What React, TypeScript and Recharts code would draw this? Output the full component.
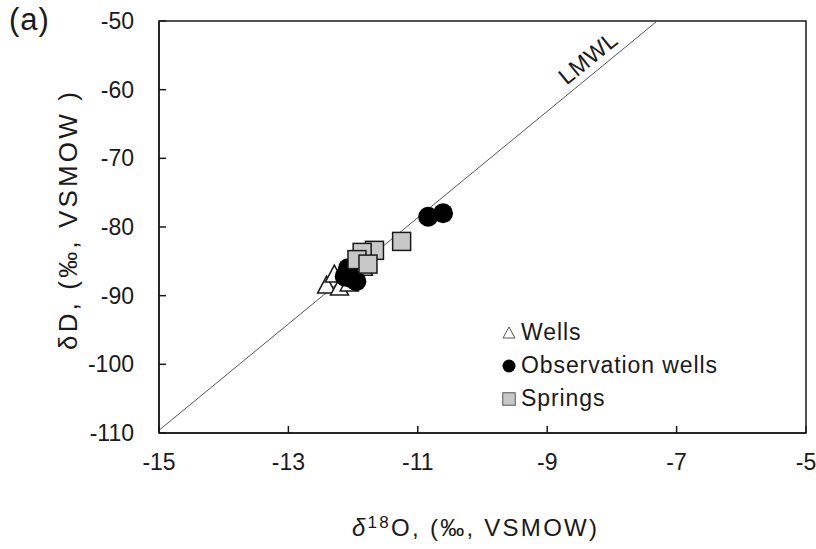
import React from "react";
import {
  ScatterChart,
  Scatter,
  XAxis,
  YAxis,
  ReferenceLine,
  ReferenceArea,
  ReferenceDot,
  Label
} from "recharts";

// values
const seriesNames = ["Wells", "Observation wells", "Springs"];

const wellsO18 = [-12.41, -12.21, -12.29, -11.84, -12.06];
const wellsD = [-88.6, -88.9, -87.0, -86.0, -88.3];

const obsO18 = [-10.84, -10.61, -12.08, -12.03, -11.95, -12.13];
const obsD = [-78.5, -78.0, -86.0, -87.45, -87.9, -87.2];

const springsO18 = [-11.25, -11.67, -11.86, -11.94, -11.77];
const springsD = [-82.1, -83.4, -83.7, -84.75, -85.4];

// local meteoric water line end points
const lmwlO18 = [-15, -7.3];
const lmwlD = [-109.6, -50];

const xTicks = [-15, -13, -11, -9, -7, -5];
const yTicks = [-110, -100, -90, -80, -70, -60, -50];

const FONT = "'Liberation Sans', Arial, sans-serif";
const INK = "#1a1a1a";

const toPoints = (xs: number[], ys: number[]) => xs.map((x, i) => ({ x, y: ys[i] }));

const TriangleShape = (props: any) => {
  const { cx, cy } = props;
  return (
    <path
      d={`M${cx},${cy - 10} L${cx + 9},${cy + 7} L${cx - 9},${cy + 7} Z`}
      fill="#fff"
      stroke={INK}
      strokeWidth={1.5}
    />
  );
};

const CircleShape = (props: any) => <circle cx={props.cx} cy={props.cy} r={10} fill="#000" />;

const SquareShape = (props: any) => (
  <rect x={props.cx - 9} y={props.cy - 9} width={18} height={18} fill="#c8c8c8" stroke={INK} strokeWidth={1.5} />
);

const X_MARGIN = 34;
const Y_MARGIN = 25;

const XTick = (props: any) => {
  const { x, y, payload } = props;
  const axisY = y - X_MARGIN;
  return (
    <g>
      <line x1={x} y1={axisY} x2={x} y2={axisY - 7} stroke={INK} strokeWidth={1.5} />
      <text x={x} y={y + 3} textAnchor="middle" fontSize={23} fontFamily={FONT} fill={INK}>
        {payload.value}
      </text>
    </g>
  );
};

const YTick = (props: any) => {
  const { x, y, payload } = props;
  const axisX = x + Y_MARGIN;
  return (
    <g>
      <line x1={axisX} y1={y} x2={axisX + 7} y2={y} stroke={INK} strokeWidth={1.5} />
      <text x={x} y={y + 8} textAnchor="end" fontSize={23} fontFamily={FONT} fill={INK}>
        {payload.value}
      </text>
    </g>
  );
};

const XTitle = () => (
  <text
    x={352}
    y={536}
    textLength={245}
    lengthAdjust="spacing"
    fontSize={24}
    fontFamily={FONT}
    fill={INK}
  >
    <tspan fontStyle="italic">δ</tspan>
    <tspan fontSize={17} dy={-8}>18</tspan>
    <tspan dy={8}>O, (‰, VSMOW)</tspan>
  </text>
);

const YTitle = () => (
  <text
    x={77}
    y={221}
    transform="rotate(-90, 77, 221)"
    textAnchor="middle"
    textLength={258}
    lengthAdjust="spacing"
    fontSize={26}
    fontFamily={FONT}
    fill={INK}
  >
    δD, (‰, VSMOW )
  </text>
);

const LmwlText = (props: any) => {
  const { cx, cy } = props;
  return (
    <text
      x={cx}
      y={cy}
      transform={`rotate(-39, ${cx}, ${cy})`}
      textAnchor="middle"
      dominantBaseline="central"
      fontSize={23}
      letterSpacing={0.5}
      fontFamily={FONT}
      fill={INK}
    >
      LMWL
    </text>
  );
};

const legendMarkers = [
  <svg width={14} height={14} key="t">
    <path d="M7,1 L13,12 L1,12 Z" fill="#fff" stroke="#555" strokeWidth={1} />
  </svg>,
  <svg width={14} height={14} key="c">
    <circle cx={7} cy={7} r={6.5} fill="#000" />
  </svg>,
  <svg width={14} height={14} key="s">
    <rect x={0.75} y={0.75} width={12.5} height={12.5} fill="#c8c8c8" stroke="#555" strokeWidth={1} />
  </svg>
];

const LegendBox = () => (
  <div
    style={{
      position: "absolute",
      left: 502,
      top: 316,
      fontFamily: FONT,
      fontSize: 23,
      letterSpacing: 0.9,
      color: INK
    }}
  >
    {seriesNames.map((name, i) => (
      <div key={name} style={{ display: "flex", alignItems: "center", height: 33, whiteSpace: "nowrap" }}>
        <span style={{ width: 19, display: "inline-flex" }}>{legendMarkers[i]}</span>
        <span>{name}</span>
      </div>
    ))}
  </div>
);

export default function App() {
  return (
    <div style={{ position: "absolute", left: 0, top: 0, width: 816, height: 549, background: "#fff" }}>
      <div
        style={{ position: "absolute", left: 9, top: 2, fontFamily: FONT, fontSize: 31, letterSpacing: 1, color: INK }}
      >
        (a)
      </div>
      <ScatterChart width={816} height={549} margin={{ top: 21, right: 10, bottom: 56, left: 0 }}>
        <XAxis
          type="number"
          dataKey="x"
          domain={[-15, -5]}
          ticks={xTicks}
          allowDataOverflow
          height={60}
          tickSize={0}
          tickMargin={X_MARGIN}
          tickLine={false}
          tick={<XTick />}
          axisLine={{ stroke: INK, strokeWidth: 1.5 }}
        >
          <Label content={<XTitle />} />
        </XAxis>
        <YAxis
          type="number"
          dataKey="y"
          domain={[-110, -50]}
          ticks={yTicks}
          allowDataOverflow
          width={159}
          tickSize={0}
          tickMargin={Y_MARGIN}
          tickLine={false}
          tick={<YTick />}
          axisLine={{ stroke: INK, strokeWidth: 1.5 }}
        >
          <Label content={<YTitle />} />
        </YAxis>
        <ReferenceArea x1={-15} x2={-5} y1={-110} y2={-50} fill="none" stroke={INK} strokeWidth={1.5} ifOverflow="visible" />
        <ReferenceLine
          segment={[
            { x: lmwlO18[0], y: lmwlD[0] },
            { x: lmwlO18[1], y: lmwlD[1] }
          ]}
          stroke="#555"
          strokeWidth={1}
        />
        <ReferenceDot x={-8.37} y={-55.4} r={0} shape={<LmwlText />} />
        <Scatter
          name={seriesNames[0]}
          data={toPoints(wellsO18, wellsD)}
          shape={<TriangleShape />}
          isAnimationActive={false}
        />
        <Scatter
          name={seriesNames[1]}
          data={toPoints(obsO18, obsD)}
          shape={<CircleShape />}
          isAnimationActive={false}
        />
        <Scatter
          name={seriesNames[2]}
          data={toPoints(springsO18, springsD)}
          shape={<SquareShape />}
          isAnimationActive={false}
        />
      </ScatterChart>
      <LegendBox />
    </div>
  );
}
